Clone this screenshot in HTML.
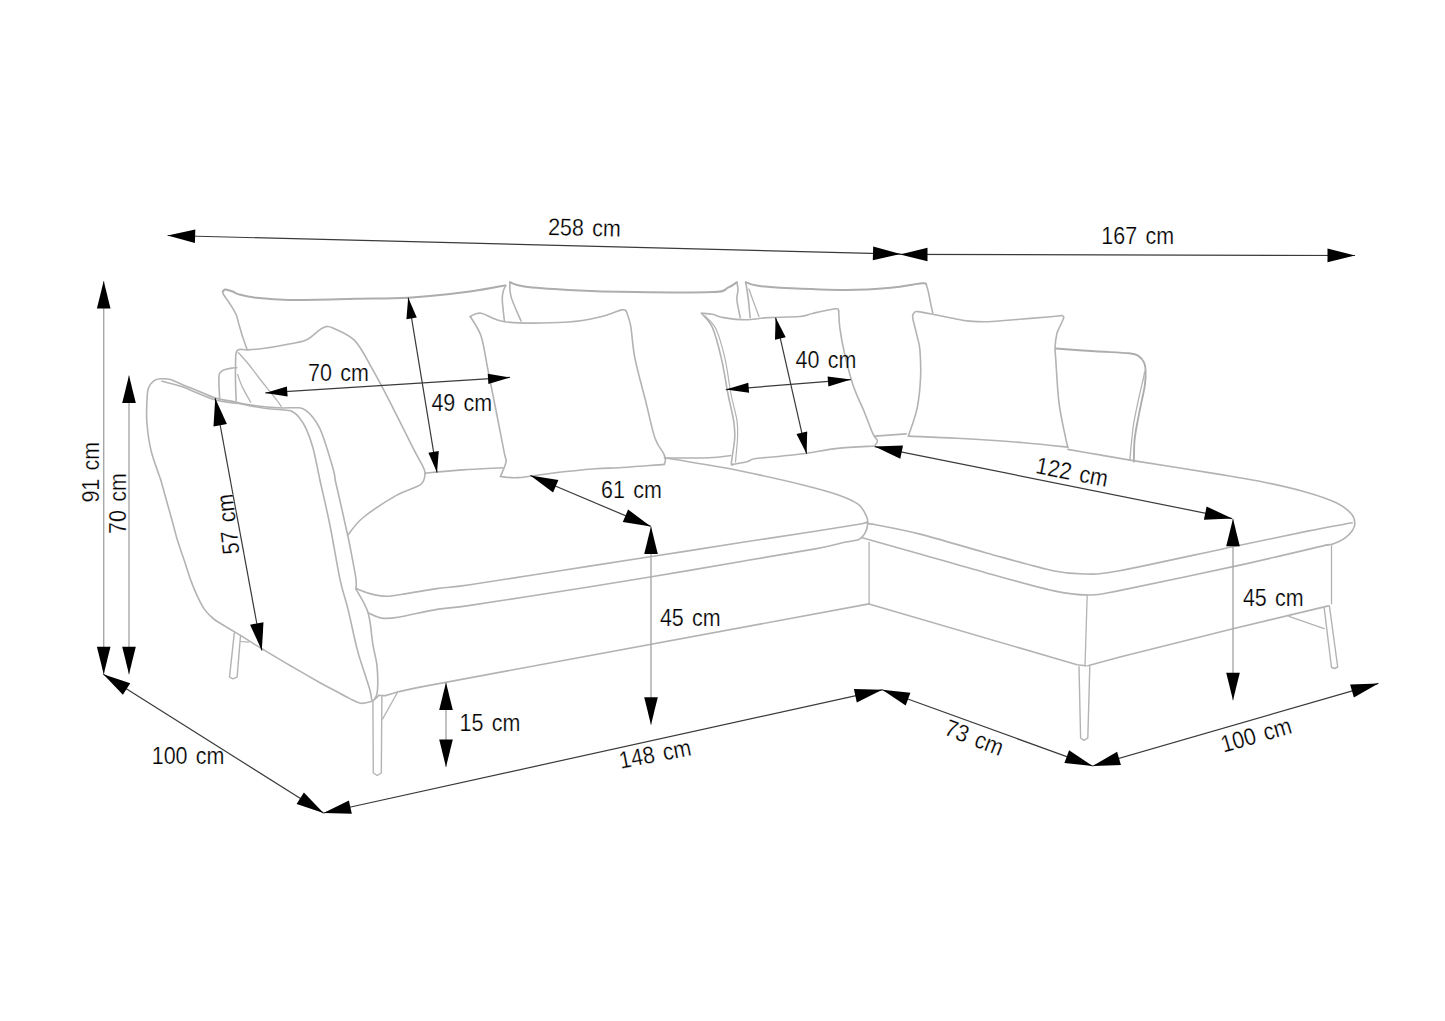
<!DOCTYPE html><html><head><meta charset="utf-8"><style>html,body{margin:0;padding:0;background:#fff;}svg{display:block}text{font-family:"Liberation Sans",sans-serif;font-size:24.0px;fill:#000;stroke:#fff;stroke-width:0.25px;paint-order:normal;}</style></head><body>
<svg width="1445" height="1021" viewBox="0 0 1445 1021">
<rect width="1445" height="1021" fill="#fff"/>
<g fill="none" stroke="#ababab" stroke-linecap="round" stroke-linejoin="round">
<path d="M247.0 349.3 C246.3 347.4 244.3 341.8 242.9 337.6 C241.5 333.4 240.0 327.8 238.8 323.9 C237.7 320.0 237.4 317.5 236.0 314.3 C234.6 311.1 232.6 308.0 230.5 304.7 C228.4 301.4 224.8 296.7 223.5 294.5 C222.2 292.3 222.6 292.3 222.8 291.5 C223.1 290.7 224.6 289.9 225.0 289.6" stroke-width="1.6" stroke="#b3b3b3"/>
<path d="M222.8 291.5 C223.2 291.2 223.9 289.8 225.0 289.6 C226.1 289.4 228.1 290.1 229.5 290.5 C230.9 290.9 231.8 291.1 233.3 291.7 C234.9 292.3 234.9 293.4 238.8 294.4 C242.7 295.4 248.3 296.9 256.6 297.8 C264.9 298.7 272.2 299.7 288.6 299.9 C305.0 300.1 335.1 299.2 355.0 298.8 C374.9 298.4 389.8 298.8 408.2 297.7 C426.6 296.6 450.6 294.0 465.7 292.1 C480.8 290.2 492.4 287.7 499.0 286.6 C505.6 285.5 504.5 285.7 505.6 285.5" stroke-width="2.0" stroke="#adadad"/>
<path d="M505.6 285.5 C505.2 286.6 503.6 289.6 503.0 292.0 C502.4 294.4 502.2 296.7 502.3 300.0 C502.4 303.3 503.0 308.5 503.4 312.0 C503.8 315.5 504.2 319.5 504.4 321.0" stroke-width="1.6" stroke="#b3b3b3"/>
<path d="M509.9 282.2 C510.1 284.6 509.1 290.1 511.0 296.6 C512.9 303.1 519.3 316.9 521.0 321.0" stroke-width="1.6" stroke="#b3b3b3"/>
<path d="M509.9 282.2 C512.3 282.9 514.5 285.3 524.3 286.6 C534.1 287.9 550.1 289.0 568.6 289.9 C587.1 290.8 611.0 291.7 635.0 292.1 C659.0 292.5 697.0 292.8 712.5 292.1 C728.0 291.4 723.9 289.4 728.0 287.7 C732.1 286.0 735.4 283.1 736.9 282.2" stroke-width="2.0" stroke="#adadad"/>
<path d="M736.9 282.2 C737.1 283.5 738.0 287.0 738.0 290.0 C738.0 293.0 736.5 295.4 736.9 300.0 C737.3 304.6 739.7 314.7 740.2 317.6" stroke-width="1.6" stroke="#b3b3b3"/>
<path d="M745.7 282.2 C746.1 284.6 747.2 290.7 748.0 296.6 C748.8 302.5 749.8 314.1 750.2 317.6" stroke-width="1.6" stroke="#b3b3b3"/>
<path d="M749.0 289.0 C749.6 290.6 750.7 294.2 752.4 298.8 C754.1 303.4 757.9 313.6 759.0 316.5" stroke-width="1.3" stroke="#b3b3b3"/>
<path d="M745.7 282.2 C747.6 282.8 751.1 284.6 756.8 285.5 C762.5 286.4 765.1 287.0 780.0 287.7 C794.9 288.4 827.9 289.9 846.4 289.9 C864.9 289.9 878.2 288.8 890.7 287.7 C903.2 286.6 915.8 283.9 921.7 283.3 C927.6 282.8 925.5 284.2 926.2 284.4" stroke-width="2.0" stroke="#adadad"/>
<path d="M926.2 284.4 C926.6 285.7 927.7 289.0 928.4 292.1 C929.1 295.2 929.9 299.7 930.6 303.2 C931.3 306.7 932.4 311.4 932.8 313.0" stroke-width="1.6" stroke="#b3b3b3"/>
<path d="M236.2 400.9 C236.1 397.7 235.6 387.0 235.5 381.5 C235.4 376.0 235.4 372.1 235.5 367.7 C235.6 363.3 235.6 357.8 235.8 355.0 C236.1 352.2 236.3 351.7 237.0 350.8 C237.7 349.9 238.2 349.5 240.0 349.4 C241.8 349.2 243.9 350.1 248.0 349.9 C252.1 349.7 258.4 349.1 264.6 348.3 C270.8 347.5 278.4 346.2 285.3 344.8 C292.2 343.4 300.4 342.5 306.1 340.0 C311.8 337.5 316.2 332.1 319.6 329.8 C323.0 327.6 325.1 327.1 326.2 326.5" stroke-width="1.6" stroke="#b3b3b3"/>
<path d="M326.2 326.5 C327.3 326.8 328.1 325.6 332.9 328.0 C337.7 330.4 348.4 333.9 355.0 340.9 C361.6 347.8 366.8 359.4 372.7 369.7 C378.6 380.0 383.8 390.0 390.4 402.9 C397.0 415.8 407.2 436.6 412.6 447.2 C418.0 457.8 420.9 462.3 423.0 466.6 C425.1 470.9 424.8 472.1 425.2 473.2" stroke-width="1.6" stroke="#b3b3b3"/>
<path d="M425.2 473.2 C424.5 475.1 425.6 480.6 420.8 484.3 C416.0 488.0 406.0 489.9 396.4 495.4 C386.8 500.9 371.3 510.9 363.2 517.5 C355.1 524.1 350.3 532.2 347.7 535.2" stroke-width="1.6" stroke="#b3b3b3"/>
<path d="M238.3 352.5 C239.9 354.3 244.8 359.6 248.0 363.5 C251.2 367.4 254.4 371.9 257.6 376.0 C260.8 380.1 263.8 384.0 267.3 388.4 C270.8 392.8 276.1 399.3 278.4 402.3 C280.7 405.3 280.7 405.7 281.2 406.4" stroke-width="1.3" stroke="#b3b3b3"/>
<path d="M237.6 374.6 C238.4 376.7 240.2 382.5 242.4 387.1 C244.6 391.7 249.3 399.8 250.7 402.3" stroke-width="1.3" stroke="#b3b3b3"/>
<path d="M219.6 398.1 C219.5 394.7 218.6 381.9 218.9 377.4 C219.2 372.9 219.8 372.6 221.7 371.1 C223.5 369.6 227.5 369.0 230.0 368.4 C232.5 367.8 235.8 367.8 236.9 367.7" stroke-width="1.6" stroke="#b3b3b3"/>
<path d="M160.8 480.0 C159.2 475.1 153.4 460.2 151.1 450.7 C148.8 441.2 147.6 431.1 146.9 423.0 C146.2 414.9 146.7 408.1 146.9 402.3 C147.1 396.5 147.2 392.0 148.3 388.4 C149.5 384.8 151.7 382.4 153.8 380.8 C155.9 379.2 158.0 379.0 160.8 378.8 C163.6 378.6 167.0 378.5 170.4 379.4 C173.8 380.3 177.3 382.6 181.5 384.3 C185.7 386.0 189.8 387.5 195.4 389.8 C201.1 392.1 209.6 396.2 215.4 398.1 C221.2 400.0 224.1 399.8 230.0 400.9 C235.9 402.0 242.6 403.9 250.7 405.0 C258.8 406.1 270.3 407.3 278.4 407.8 C286.5 408.3 294.6 407.3 299.2 407.8 C303.8 408.3 303.8 409.0 306.1 410.6 C308.4 412.2 310.7 414.5 313.0 417.5 C315.3 420.5 317.8 424.2 319.9 428.6 C322.0 433.0 323.2 436.7 325.5 443.8 C327.8 450.9 332.2 465.5 333.8 471.5 C335.4 477.5 335.0 478.6 335.2 480.0" stroke-width="1.6" stroke="#b3b3b3"/>
<path d="M162.1 381.3 C165.3 382.2 172.7 383.5 181.5 386.6 C190.3 389.7 205.5 397.0 214.7 399.8 C223.9 402.6 228.6 401.9 236.9 403.3 C245.2 404.7 256.3 407.1 264.6 408.2 C272.9 409.3 282.1 409.6 286.7 410.2 C291.3 410.8 290.1 410.3 292.2 411.5 C294.3 412.7 296.9 414.6 299.2 417.5 C301.5 420.4 303.8 423.5 306.1 428.6 C308.4 433.7 310.7 439.4 313.0 448.0 C315.3 456.6 318.8 474.7 319.9 480.0" stroke-width="1.6" stroke="#b3b3b3"/>
<path d="M160.8 480.0 C162.8 487.0 169.7 512.0 172.5 522.0 C175.3 532.0 175.4 533.6 177.4 540.0 C179.4 546.4 182.0 553.8 184.3 560.6 C186.6 567.5 188.8 574.9 191.1 581.1 C193.4 587.3 195.7 592.8 198.0 597.6 C200.3 602.4 202.1 606.2 204.8 609.9 C207.5 613.5 211.0 616.8 214.4 619.5 C217.8 622.2 221.3 623.9 225.4 626.4 C229.5 628.9 233.1 631.0 239.1 634.6 C245.1 638.2 252.6 643.1 261.1 648.3 C269.6 653.4 280.2 659.8 290.0 665.5 C299.8 671.2 312.6 678.5 320.0 682.7 C327.4 686.9 329.8 687.9 334.7 690.5 C339.6 693.1 345.0 696.3 349.4 698.4 C353.8 700.5 357.4 702.8 361.1 703.3 C364.9 703.8 369.4 702.1 371.9 701.3 C374.3 700.5 374.6 699.4 375.8 698.4 C377.0 697.4 378.3 695.9 378.8 695.4" stroke-width="1.6" stroke="#b3b3b3"/>
<path d="M319.9 480.0 C321.5 487.3 326.3 507.4 329.7 524.0 C333.1 540.6 337.0 565.3 340.0 579.4 C343.0 593.5 344.9 596.7 347.8 608.4 C350.7 620.1 354.3 638.3 357.2 649.4 C360.1 660.5 363.0 667.9 365.1 674.8 C367.2 681.6 368.9 686.2 370.0 690.5 C371.1 694.8 371.6 698.7 371.9 700.3" stroke-width="1.6" stroke="#b3b3b3"/>
<path d="M335.2 480.0 C337.3 489.2 344.8 521.9 347.7 535.2 C350.6 548.5 351.2 552.6 352.6 560.0 C354.0 567.4 355.4 574.6 356.0 579.4 C356.6 584.2 356.0 587.4 356.0 589.0" stroke-width="1.6" stroke="#b3b3b3"/>
<path d="M356.0 589.0 C358.0 593.0 365.3 603.5 368.1 612.8 C370.9 622.0 371.4 636.0 372.9 644.5 C374.3 653.0 376.0 657.6 376.8 664.1 C377.6 670.6 377.8 678.7 377.8 683.7 C377.8 688.8 377.4 691.8 376.8 694.4 C376.2 697.0 374.8 698.5 374.4 699.3" stroke-width="1.6" stroke="#b3b3b3"/>
<path d="M470.2 316.5 C472.0 315.9 475.1 312.3 481.2 313.2 C487.3 314.1 492.0 320.5 506.6 322.0 C521.2 323.5 552.7 322.9 568.6 322.0 C584.5 321.1 592.9 318.5 601.8 316.5 C610.6 314.5 617.6 310.8 621.7 309.9 C625.8 309.0 625.5 310.8 626.2 311.0" stroke-width="1.6" stroke="#b3b3b3"/>
<path d="M626.2 311.0 C626.9 313.4 629.1 317.5 630.6 325.4 C632.1 333.3 632.4 345.7 635.0 358.6 C637.6 371.5 642.8 389.6 646.1 402.9 C649.4 416.2 652.0 429.8 655.0 438.3 C658.0 446.8 662.1 450.2 663.8 453.8 C665.5 457.4 665.3 458.2 665.4 460.0 C665.5 461.8 664.5 463.7 664.3 464.4" stroke-width="1.6" stroke="#b3b3b3"/>
<path d="M664.3 464.4 C656.9 464.9 631.4 467.0 620.0 467.7 C608.6 468.4 607.1 467.9 595.7 468.8 C584.3 469.7 564.4 471.7 551.5 473.2 C538.6 474.7 526.7 477.1 518.2 477.6 C509.7 478.2 503.4 476.7 500.5 476.5" stroke-width="1.6" stroke="#b3b3b3"/>
<path d="M500.5 476.5 C501.4 474.1 505.3 465.9 506.0 462.1 C506.7 458.3 506.1 461.8 504.5 453.8 C502.9 445.8 499.5 428.0 496.7 414.0 C493.9 400.0 490.5 382.6 487.9 369.7 C485.3 356.8 484.1 345.3 481.2 336.4 C478.2 327.5 472.0 319.8 470.2 316.5" stroke-width="1.6" stroke="#b3b3b3"/>
<path d="M701.5 313.2 C703.3 313.4 708.8 313.6 712.5 314.3 C716.2 315.0 718.1 316.7 723.6 317.6 C729.1 318.5 738.3 319.8 745.7 319.8 C753.1 319.8 758.9 318.2 767.9 317.6 C776.9 317.1 792.5 317.2 800.0 316.5 C807.5 315.8 807.3 314.5 813.2 313.2 C819.1 311.9 831.1 309.2 835.4 308.8 C839.6 308.4 838.2 310.6 838.7 311.0" stroke-width="1.6" stroke="#b3b3b3"/>
<path d="M838.7 311.0 C838.9 313.8 838.9 320.8 839.8 327.6 C840.7 334.4 842.0 342.3 844.2 351.9 C846.4 361.5 849.8 375.2 853.1 385.2 C856.4 395.2 860.9 403.6 864.2 411.7 C867.5 419.8 870.8 429.1 873.0 433.9 C875.2 438.7 877.0 438.6 877.4 440.5 C877.8 442.4 875.6 444.2 875.2 445.0" stroke-width="1.6" stroke="#b3b3b3"/>
<path d="M875.2 446.0 C868.9 446.4 848.9 447.2 837.6 448.4 C826.3 449.6 816.4 451.9 807.2 453.2 C798.0 454.5 791.1 455.1 782.3 456.0 C773.5 456.9 760.4 457.9 754.6 458.8 C748.8 459.7 751.3 460.6 747.7 461.5 C744.1 462.4 735.5 463.9 733.0 464.4" stroke-width="1.6" stroke="#b3b3b3"/>
<path d="M733.0 464.4 C732.7 464.1 731.1 467.0 731.4 462.7 C731.7 458.4 734.3 445.3 734.7 438.3 C735.1 431.3 734.7 428.0 733.6 420.6 C732.5 413.2 730.0 404.3 728.0 394.0 C726.0 383.7 724.0 369.7 721.4 358.6 C718.8 347.5 715.8 335.2 712.5 327.6 C709.2 320.0 703.3 315.6 701.5 313.2" stroke-width="1.6" stroke="#b3b3b3"/>
<path d="M705.0 316.0 C706.8 318.2 712.7 321.9 716.0 329.0 C719.3 336.1 722.5 347.8 725.0 358.6 C727.5 369.4 729.0 383.7 731.0 394.0 C733.0 404.3 735.9 413.2 737.0 420.6 C738.1 428.0 737.8 431.4 737.5 438.3 C737.2 445.2 735.8 458.1 735.5 462.0" stroke-width="1.2" stroke="#b3b3b3"/>
<path d="M908.4 436.1 C909.9 431.3 915.3 417.3 917.3 407.3 C919.3 397.3 920.2 385.9 920.6 376.3 C921.0 366.7 920.4 356.2 919.9 349.7 C919.4 343.2 918.3 341.4 917.4 337.3 C916.5 333.2 915.1 328.3 914.3 324.8 C913.5 321.3 912.6 318.6 912.6 316.5 C912.6 314.4 913.6 313.1 914.5 312.3 C915.4 311.5 915.0 311.3 918.0 311.6 C921.0 311.9 926.9 313.1 932.4 314.2 C937.9 315.3 944.8 316.9 951.0 318.0 C957.2 319.1 963.5 320.5 969.7 321.1 C975.9 321.7 980.1 322.0 988.4 321.7 C996.7 321.4 1009.2 320.0 1019.6 319.2 C1030.0 318.4 1043.7 317.3 1050.7 316.7 C1057.8 316.1 1060.0 315.7 1061.9 315.5" stroke-width="1.6" stroke="#b3b3b3"/>
<path d="M1061.9 315.5 C1062.2 315.8 1064.0 315.8 1063.8 317.4 C1063.6 318.9 1061.8 322.1 1060.7 324.8 C1059.6 327.5 1057.8 329.8 1056.9 333.5 C1056.0 337.2 1055.3 343.0 1055.1 347.2 C1054.9 351.4 1055.0 349.3 1055.7 358.6 C1056.4 367.9 1057.3 389.6 1059.0 402.9 C1060.7 416.2 1064.2 430.9 1065.7 438.3 C1067.2 445.7 1067.5 445.7 1067.9 447.2" stroke-width="1.6" stroke="#b3b3b3"/>
<path d="M1067.9 447.2 C1060.5 446.4 1042.0 444.2 1023.6 442.7 C1005.1 441.2 976.4 439.4 957.2 438.3 C938.0 437.2 916.5 436.5 908.4 436.1" stroke-width="1.6" stroke="#b3b3b3"/>
<path d="M425.2 473.2 C431.5 472.6 450.0 470.8 462.9 469.9 C475.8 469.0 496.1 468.1 502.7 467.7" stroke-width="1.6" stroke="#b3b3b3"/>
<path d="M665.4 458.0 C672.6 457.9 697.7 458.1 708.6 457.7 C719.5 457.3 727.0 455.9 730.7 455.5" stroke-width="1.6" stroke="#b3b3b3"/>
<path d="M875.2 436.1 L906.2 433.9" stroke-width="1.6" stroke="#b3b3b3"/>
<path d="M1055.8 348.5 C1062.3 349.0 1082.7 350.5 1094.9 351.3 C1107.1 352.1 1121.8 352.5 1129.1 353.3 C1136.4 354.1 1136.2 354.5 1138.7 356.1 C1141.2 357.7 1143.1 360.4 1144.2 362.9 C1145.3 365.4 1145.5 367.4 1145.6 371.1 C1145.7 374.8 1145.5 380.3 1144.9 384.9 C1144.3 389.5 1143.4 392.9 1142.2 398.6 C1141.0 404.3 1139.3 412.2 1138.0 419.1 C1136.7 426.0 1135.3 432.6 1134.6 439.7 C1133.9 446.8 1134.0 458.0 1133.9 461.6" stroke-width="1.9" stroke="#adadad"/>
<path d="M1144.5 372.0 C1144.3 373.0 1144.5 373.6 1143.5 378.0 C1142.5 382.4 1140.4 390.6 1138.7 398.6 C1137.0 406.6 1134.8 415.7 1133.3 426.0 C1131.8 436.3 1130.4 454.6 1129.8 460.3" stroke-width="1.3" stroke="#b3b3b3"/>
<path d="M1067.9 449.4 C1073.2 450.3 1089.1 453.0 1100.0 454.9 C1110.9 456.8 1113.9 457.5 1133.1 460.6 C1152.3 463.7 1194.1 470.2 1215.0 473.6 C1235.9 477.0 1243.3 477.9 1258.4 481.0 C1273.5 484.1 1292.4 488.3 1305.4 492.0 C1318.5 495.7 1329.0 499.3 1336.7 503.0 C1344.4 506.7 1348.5 510.7 1351.5 514.0 C1354.5 517.3 1354.6 520.0 1354.8 522.7 C1355.0 525.5 1354.1 527.9 1352.4 530.5 C1350.7 533.1 1347.7 536.2 1344.6 538.4 C1341.5 540.6 1336.6 542.7 1333.6 543.8 C1330.5 544.9 1327.5 545.0 1326.3 545.2" stroke-width="1.6" stroke="#b3b3b3"/>
<path d="M664.3 457.7 C673.6 459.2 703.8 464.1 720.0 467.0 C736.2 469.9 747.7 472.4 761.5 475.4 C775.3 478.4 790.3 481.8 803.0 485.0 C815.7 488.2 828.4 491.5 837.6 494.7 C846.8 497.9 853.5 500.7 858.4 504.4 C863.2 508.1 865.2 513.5 866.7 516.9 C868.2 520.3 867.9 522.1 867.6 524.9 C867.3 527.7 866.2 531.2 864.7 533.6 C863.2 536.0 862.3 538.0 858.9 539.4 C855.5 540.8 851.7 540.7 844.4 542.3 C837.1 543.9 832.2 545.8 815.3 548.9 C798.3 552.0 770.2 556.5 742.7 561.2 C715.2 565.9 680.5 572.0 650.0 577.0 C619.5 582.0 590.0 586.8 560.0 591.5 C530.0 596.2 490.5 602.4 470.0 605.4 C449.5 608.4 448.9 607.4 436.9 609.4 C424.9 611.4 407.3 615.8 398.1 617.2 C388.9 618.7 386.7 618.8 381.7 618.1 C376.7 617.4 370.4 613.7 368.1 612.8" stroke-width="1.6" stroke="#b3b3b3"/>
<path d="M356.0 588.6 C358.2 589.4 364.0 592.1 369.1 593.4 C374.2 594.7 380.1 596.3 386.5 596.3 C392.9 596.3 399.4 594.7 407.8 593.4 C416.2 592.1 426.5 590.0 436.9 588.6 C447.3 587.2 449.5 587.7 470.0 584.7 C490.5 581.7 530.0 575.4 560.0 570.7 C590.0 566.1 619.5 561.5 650.0 556.8 C680.5 552.1 715.2 546.6 742.7 542.3 C770.2 538.0 795.9 534.2 815.3 531.2 C834.7 528.2 850.3 525.7 858.9 524.2 C867.5 522.7 865.6 522.4 866.9 522.0" stroke-width="1.6" stroke="#b3b3b3"/>
<path d="M866.9 523.1 C875.8 524.9 900.1 529.1 920.0 534.1 C939.9 539.1 964.2 546.8 986.4 552.9 C1008.5 559.0 1036.3 567.2 1052.9 570.7 C1069.5 574.2 1075.0 574.0 1086.1 574.0 C1097.2 574.0 1094.8 575.2 1119.3 570.7 C1143.8 566.2 1201.5 553.3 1232.9 546.7 C1264.3 540.1 1287.7 535.1 1307.6 531.1 C1327.5 527.1 1344.8 524.2 1352.2 522.8" stroke-width="1.6" stroke="#b3b3b3"/>
<path d="M861.4 537.4 C871.2 540.2 899.2 548.1 920.0 554.0 C940.8 559.9 964.2 566.8 986.4 572.9 C1008.5 579.0 1035.9 586.9 1052.9 590.6 C1069.9 594.3 1077.2 595.0 1088.3 595.0 C1099.4 595.0 1094.0 595.6 1119.3 590.6 C1144.6 585.6 1205.2 572.8 1240.0 565.1 C1274.8 557.4 1313.7 548.0 1328.4 544.6" stroke-width="1.6" stroke="#b3b3b3"/>
<path d="M378.8 695.4 C380.1 695.4 383.5 696.0 386.6 695.4 C389.7 694.8 391.8 693.4 397.4 692.0 C403.0 690.6 416.2 687.9 420.0 687.1" stroke-width="1.6" stroke="#b3b3b3"/>
<path d="M420.0 687.1 L869.1 603.9" stroke-width="1.6" stroke="#b3b3b3"/>
<path d="M869.1 542.3 L869.1 604.0" stroke-width="1.3" stroke="#b3b3b3"/>
<path d="M869.0 604.0 L1077.1 664.8 L1085.9 665.8" stroke-width="1.6" stroke="#b3b3b3"/>
<path d="M1087.8 665.8 L1120.0 657.0 L1232.9 628.7 L1328.4 605.9" stroke-width="1.6" stroke="#b3b3b3"/>
<path d="M1087.2 595.0 L1085.0 666.0" stroke-width="1.3" stroke="#b3b3b3"/>
<path d="M1331.5 544.6 L1331.5 603.8" stroke-width="1.3" stroke="#b3b3b3"/>
<path d="M234.3 633.2 L229.5 677.1 L233.0 678.8 L237.1 677.1 L240.5 636.0" stroke-width="1.4" stroke="#b3b3b3"/>
<path d="M240.5 641.5 L248.7 642.2" stroke-width="1.2" stroke="#b3b3b3"/>
<path d="M372.9 701.3 L373.3 773.0 L377.3 775.5 L381.3 773.0 L381.9 696.4" stroke-width="1.4" stroke="#b3b3b3"/>
<path d="M382.7 718.9 L397.4 692.5" stroke-width="1.3" stroke="#b3b3b3"/>
<path d="M1079.0 666.8 L1080.6 738.0 L1084.0 740.3 L1087.8 738.0 L1089.8 666.8" stroke-width="1.4" stroke="#b3b3b3"/>
<path d="M1324.2 608.0 L1331.5 667.5 L1334.5 668.5 L1337.7 667.0 L1329.4 605.9" stroke-width="1.4" stroke="#b3b3b3"/>
<path d="M1288.9 616.3 L1324.2 628.7" stroke-width="1.3" stroke="#b3b3b3"/>
</g>
<g fill="none">
<path d="M167.6 235.5 L900.5 254.1" stroke="#3a3a3a" stroke-width="1.2"/>
<path d="M900.0 254.4 L1355.0 255.5" stroke="#3a3a3a" stroke-width="1.2"/>
<path d="M103.7 281.0 L103.7 674.3" stroke="#a8a8a8" stroke-width="1.4"/>
<path d="M129.0 375.5 L129.0 674.3" stroke="#a8a8a8" stroke-width="1.4"/>
<path d="M103.3 674.3 L323.5 813.0" stroke="#3a3a3a" stroke-width="1.2"/>
<path d="M323.5 813.0 L882.2 689.8" stroke="#3a3a3a" stroke-width="1.2"/>
<path d="M882.2 689.8 L1092.6 766.0" stroke="#3a3a3a" stroke-width="1.2"/>
<path d="M1092.6 766.0 L1378.4 683.4" stroke="#3a3a3a" stroke-width="1.2"/>
<path d="M215.2 398.2 L261.8 650.5" stroke="#3a3a3a" stroke-width="1.2"/>
<path d="M265.3 392.9 L510.0 377.4" stroke="#3a3a3a" stroke-width="1.2"/>
<path d="M408.2 297.7 L437.0 472.6" stroke="#3a3a3a" stroke-width="1.2"/>
<path d="M775.6 317.6 L806.6 453.8" stroke="#3a3a3a" stroke-width="1.2"/>
<path d="M725.8 389.6 L850.9 379.6" stroke="#3a3a3a" stroke-width="1.2"/>
<path d="M530.4 475.5 L650.8 526.4" stroke="#3a3a3a" stroke-width="1.2"/>
<path d="M651.0 526.4 L651.0 724.8" stroke="#a8a8a8" stroke-width="1.4"/>
<path d="M874.7 446.6 L1232.2 518.6" stroke="#3a3a3a" stroke-width="1.2"/>
<path d="M1233.0 518.7 L1233.0 700.3" stroke="#a8a8a8" stroke-width="1.4"/>
<path d="M446.0 682.6 L446.0 767.1" stroke="#a8a8a8" stroke-width="1.4"/>
</g><g fill="#000">
<path d="M167.6 235.5 L194.9 243.0 L195.3 229.4 Z"/>
<path d="M900.5 254.1 L873.2 246.6 L872.8 260.2 Z"/>
<path d="M900.0 254.4 L927.5 261.3 L927.5 247.7 Z"/>
<path d="M1355.0 255.5 L1327.5 248.6 L1327.5 262.2 Z"/>
<path d="M103.7 281.0 L96.9 308.5 L110.5 308.5 Z"/>
<path d="M103.7 674.3 L110.5 646.8 L96.9 646.8 Z"/>
<path d="M129.0 375.5 L122.2 403.0 L135.8 403.0 Z"/>
<path d="M129.0 674.3 L135.8 646.8 L122.2 646.8 Z"/>
<path d="M103.3 674.3 L122.9 694.7 L130.2 683.2 Z"/>
<path d="M323.5 813.0 L303.9 792.6 L296.6 804.1 Z"/>
<path d="M323.5 813.0 L351.8 813.7 L348.9 800.4 Z"/>
<path d="M882.2 689.8 L853.9 689.1 L856.8 702.4 Z"/>
<path d="M882.2 689.8 L905.7 705.6 L910.4 692.8 Z"/>
<path d="M1092.6 766.0 L1069.1 750.2 L1064.4 763.0 Z"/>
<path d="M1092.6 766.0 L1120.9 764.9 L1117.1 751.8 Z"/>
<path d="M1378.4 683.4 L1350.1 684.5 L1353.9 697.6 Z"/>
<path d="M215.2 398.2 L213.5 426.5 L226.9 424.0 Z"/>
<path d="M261.8 650.5 L263.5 622.2 L250.1 624.7 Z"/>
<path d="M265.3 392.9 L287.6 396.6 L286.9 386.4 Z"/>
<path d="M510.0 377.4 L487.7 373.7 L488.4 383.9 Z"/>
<path d="M408.2 297.7 L406.4 319.3 L416.8 317.6 Z"/>
<path d="M437.0 472.6 L438.8 451.0 L428.4 452.7 Z"/>
<path d="M775.6 317.6 L775.0 339.8 L785.7 337.3 Z"/>
<path d="M806.6 453.8 L807.2 431.6 L796.5 434.1 Z"/>
<path d="M725.8 389.6 L749.1 392.8 L748.3 382.8 Z"/>
<path d="M850.9 379.6 L827.6 376.4 L828.4 386.4 Z"/>
<path d="M530.4 475.5 L553.1 492.5 L558.4 479.9 Z"/>
<path d="M650.8 526.4 L628.1 509.4 L622.8 522.0 Z"/>
<path d="M651.0 526.4 L644.2 553.9 L657.8 553.9 Z"/>
<path d="M651.0 724.8 L657.8 697.3 L644.2 697.3 Z"/>
<path d="M874.7 446.6 L900.3 458.7 L903.0 445.4 Z"/>
<path d="M1232.2 518.6 L1206.6 506.5 L1203.9 519.8 Z"/>
<path d="M1233.0 518.7 L1226.2 546.2 L1239.8 546.2 Z"/>
<path d="M1233.0 700.3 L1239.8 672.8 L1226.2 672.8 Z"/>
<path d="M446.0 682.6 L439.2 710.1 L452.8 710.1 Z"/>
<path d="M446.0 767.1 L452.8 739.6 L439.2 739.6 Z"/>
</g>
<g text-anchor="middle">
<g transform="translate(584.5 227.3) rotate(1.45) scale(0.895 1)"><text x="0" y="8.5" style="word-spacing:2.6px">258 cm</text></g>
<g transform="translate(1137.7 235.5) rotate(0.00) scale(0.895 1)"><text x="0" y="8.5" style="word-spacing:2.6px">167 cm</text></g>
<g transform="translate(90.5 472.2) rotate(-90.00) scale(0.895 1)"><text x="0" y="8.5" style="word-spacing:2.6px">91 cm</text></g>
<g transform="translate(117.3 503.6) rotate(-90.00) scale(0.895 1)"><text x="0" y="8.5" style="word-spacing:2.6px">70 cm</text></g>
<g transform="translate(338.4 372.4) rotate(0.00) scale(0.895 1)"><text x="0" y="8.5" style="word-spacing:2.6px">70 cm</text></g>
<g transform="translate(461.8 402.8) rotate(0.00) scale(0.895 1)"><text x="0" y="8.5" style="word-spacing:2.6px">49 cm</text></g>
<g transform="translate(826.0 359.1) rotate(0.00) scale(0.895 1)"><text x="0" y="8.5" style="word-spacing:2.6px">40 cm</text></g>
<g transform="translate(227.6 524.3) rotate(-96.50) scale(0.895 1)"><text x="0" y="8.5" style="word-spacing:2.6px">57 cm</text></g>
<g transform="translate(631.4 489.1) rotate(0.00) scale(0.895 1)"><text x="0" y="8.5" style="word-spacing:2.6px">61 cm</text></g>
<g transform="translate(1072.2 471.7) rotate(11.00) scale(0.895 1)"><text x="0" y="8.5" style="word-spacing:2.6px">122 cm</text></g>
<g transform="translate(690.3 617.7) rotate(0.00) scale(0.895 1)"><text x="0" y="8.5" style="word-spacing:2.6px">45 cm</text></g>
<g transform="translate(1273.3 597.6) rotate(0.00) scale(0.895 1)"><text x="0" y="8.5" style="word-spacing:2.6px">45 cm</text></g>
<g transform="translate(490.0 722.5) rotate(0.00) scale(0.895 1)"><text x="0" y="8.5" style="word-spacing:2.6px">15 cm</text></g>
<g transform="translate(188.1 755.0) rotate(0.00) scale(0.895 1)"><text x="0" y="8.5" style="word-spacing:2.6px">100 cm</text></g>
<g transform="translate(655.0 753.6) rotate(-10.80) scale(0.895 1)"><text x="0" y="8.5" style="word-spacing:2.6px">148 cm</text></g>
<g transform="translate(974.4 737.3) rotate(21.00) scale(0.895 1)"><text x="0" y="8.5" style="word-spacing:2.6px">73 cm</text></g>
<g transform="translate(1256.0 734.6) rotate(-16.00) scale(0.895 1)"><text x="0" y="8.5" style="word-spacing:2.6px">100 cm</text></g>
</g></svg></body></html>
